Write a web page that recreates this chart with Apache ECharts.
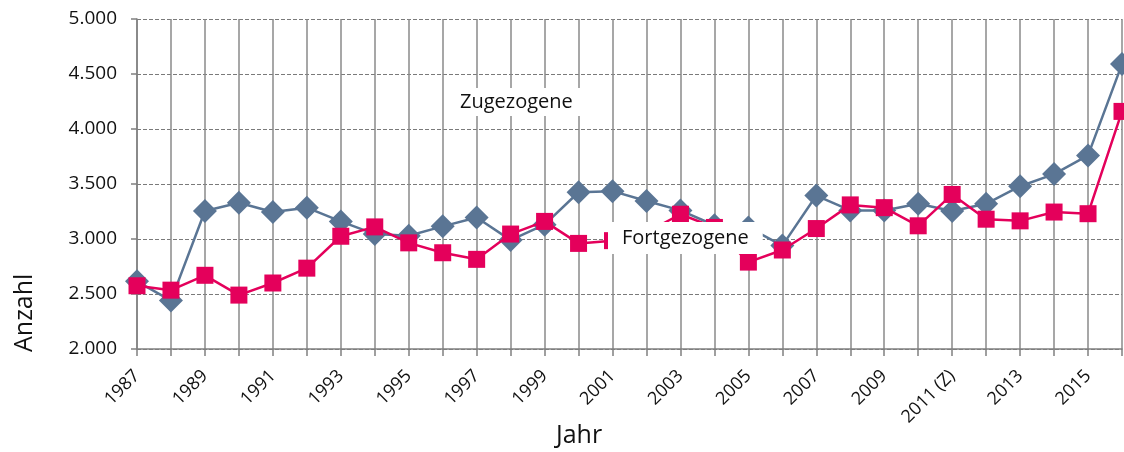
<!DOCTYPE html>
<html style="height: 100%;width: 100%;">
<head>
  <meta charset="UTF-8">
  <title>Zu- und Fortzüge</title>
</head>
<body style="margin: 0;height: 452px;width: 1124px;background: #fff;">
  <div id="wanderung_chart" style="width: 1124px;height: 452px;"></div>

<script src="https://cdn.jsdelivr.net/npm/echarts@6/dist/echarts.min.js"></script>
<script>
// Jahre (Kategorien)
var jahre = ["1987","1988","1989","1990","1991","1992","1993","1994","1995","1996",
             "1997","1998","1999","2000","2001","2002","2003","2004","2005","2006",
             "2007","2008","2009","2010","2011 (Z)","2012","2013","2014","2015","2016"];

// Zugezogene
var zugezogene = [2615, 2440, 3255, 3330, 3245, 3285, 3160, 3045, 3030, 3115,
                  3195, 2990, 3130, 3425, 3435, 3345, 3260, 3125, 3105, 2940,
                  3395, 3260, 3260, 3320, 3255, 3320, 3480, 3590, 3760, 4590];

// Fortgezogene
var fortgezogene = [2575, 2535, 2670, 2490, 2600, 2735, 3025, 3110, 2965, 2875,
                    2815, 3045, 3160, 2960, 2985, 3060, 3225, 3105, 2790, 2900,
                    3095, 3310, 3285, 3120, 3405, 3180, 3165, 3245, 3230, 4160];

var schrift = "'Open Sans', sans-serif";

function tausender(v){
    return String(v).replace(/\B(?=(\d{3})+(?!\d))/g, '.');
}

var chart = echarts.init(document.getElementById("wanderung_chart"));
var option = {
    animation: false,
    grid: {
        left: 137,
        right: 2,
        top: 19,
        bottom: 103,
        show: false
    },
    xAxis: {
        type: 'category',
        data: jahre,
        boundaryGap: false,
        axisLine: {lineStyle: {color: '#808080', width: 1.5}},
        axisTick: {show: true, interval: 0, length: 7, lineStyle: {color: '#808080', width: 1.5}},
        axisLabel: {
            interval: 1,
            rotate: 45,
            margin: 24,
            color: '#111',
            fontSize: 18,
            fontFamily: schrift
        },
        splitLine: {show: true, interval: 0, lineStyle: {color: '#8a8a8a', width: 1.5}}
    },
    yAxis: {
        type: 'value',
        min: 2000,
        max: 5000,
        interval: 500,
        axisLine: {show: true, lineStyle: {color: '#808080', width: 1.5}},
        axisTick: {show: true, length: 6, lineStyle: {color: '#808080', width: 1.5}},
        axisLabel: {
            margin: 20,
            color: '#111',
            fontSize: 19,
            fontFamily: schrift,
            formatter: tausender
        },
        splitLine: {show: true, lineStyle: {color: '#7a7a7a', width: 1, type: [4, 2]}}
    },
    series: [
        {
            name: 'Zugezogene',
            type: 'line',
            data: zugezogene,
            symbol: 'diamond',
            symbolSize: 24,
            showAllSymbol: true,
            itemStyle: {color: '#5a7594'},
            lineStyle: {color: '#5a7594', width: 2.5},
            z: 2
        },
        {
            name: 'Fortgezogene',
            type: 'line',
            data: fortgezogene,
            symbol: 'rect',
            symbolSize: 17,
            showAllSymbol: true,
            itemStyle: {color: '#e4005b'},
            lineStyle: {color: '#e4005b', width: 2.5},
            z: 3
        }
    ],
    graphic: [
        {
            type: 'text',
            left: 448,
            top: 88,
            z: 100,
            style: {
                text: 'Zugezogene',
                fill: '#111',
                font: '20px ' + schrift,
                backgroundColor: '#fff',
                padding: [4, 12, 4, 12]
            }
        },
        {
            type: 'text',
            left: 608,
            top: 222,
            z: 100,
            style: {
                text: 'Fortgezogene',
                fill: '#111',
                font: '20px ' + schrift,
                backgroundColor: '#fff',
                padding: [6, 14, 6, 14]
            }
        },
        {
            type: 'text',
            x: 12,
            y: 352,
            rotation: Math.PI / 2,
            style: {
                text: 'Anzahl',
                fill: '#111',
                font: '25px ' + schrift
            }
        },
        {
            type: 'text',
            left: 556,
            top: 423,
            style: {
                text: 'Jahr',
                fill: '#111',
                font: '25px ' + schrift
            }
        }
    ]
};
chart.setOption(option);
</script>
</body>
</html>
